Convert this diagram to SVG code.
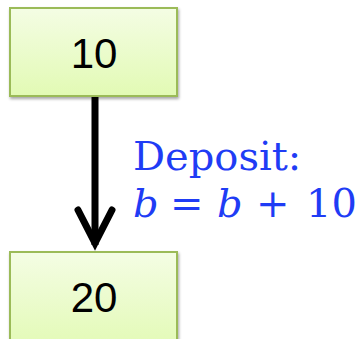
<svg xmlns="http://www.w3.org/2000/svg" width="361" height="339" viewBox="0 0 361 339">
<style>
.box{fill:url(#g);stroke:#9bbb59;stroke-width:2;filter:url(#sh)}
.num{font-family:"Liberation Sans",Arial,sans-serif;font-size:42px;fill:#000;text-anchor:middle}
.lbl{font-family:"DejaVu Serif","Liberation Serif",serif;font-size:40px;fill:#1f3cf5}
.it{font-style:italic}
</style>
<defs>
<linearGradient id="g" x1="0" y1="0" x2="0" y2="1">
<stop offset="0" stop-color="#f4fde4"/>
<stop offset="1" stop-color="#e2fab4"/>
</linearGradient>
<filter id="sh" x="-10%" y="-10%" width="130%" height="130%">
<feDropShadow dx="1" dy="2" stdDeviation="1.5" flood-color="#000" flood-opacity="0.35"/>
</filter>
</defs>
<g id="node10">
<rect class="box" x="10" y="8" width="167" height="88"/>
<text class="num" x="94" y="68">10</text>
</g>
<g id="node20">
<rect class="box" x="10" y="252" width="167" height="100"/>
<text class="num" x="94" y="312">20</text>
</g>
<g id="connectors">
<path d="M95 97 V245" stroke="#000" stroke-width="7" fill="none"/>
<path d="M78 210 L95 243 L112 210" stroke="#000" stroke-width="7" fill="none" stroke-linecap="round" stroke-linejoin="miter"/>
<text class="lbl" x="133" y="170">Deposit:</text>
<text class="lbl" y="217"><tspan class="it" x="133">b</tspan><tspan x="170">=</tspan><tspan class="it" x="217">b</tspan><tspan x="256">+</tspan><tspan x="306">10</tspan></text>
</g>
</svg>
